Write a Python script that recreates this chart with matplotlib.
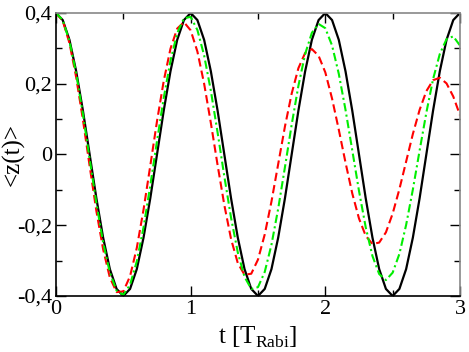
import matplotlib
matplotlib.use('Agg')
import matplotlib.pyplot as plt
from matplotlib.ticker import MultipleLocator

plt.rcParams['font.family'] = 'Liberation Serif'
plt.rcParams['mathtext.fontset'] = 'custom'
plt.rcParams['mathtext.rm'] = 'Liberation Serif'

# time in units of T_Rabi, step 0.05
t = [round(0.05 * i, 2) for i in range(61)]

z_black = [0.400, 0.380, 0.324, 0.235, 0.124, 0.000, -0.124, -0.235, -0.324, -0.380,
           -0.400, -0.380, -0.324, -0.235, -0.124, 0.000, 0.124, 0.235, 0.324, 0.380,
           0.400, 0.380, 0.324, 0.235, 0.124, 0.000, -0.124, -0.235, -0.324, -0.380,
           -0.400, -0.380, -0.324, -0.235, -0.124, 0.000, 0.124, 0.235, 0.324, 0.380,
           0.400, 0.380, 0.324, 0.235, 0.124, 0.000, -0.124, -0.235, -0.324, -0.380,
           -0.400, -0.380, -0.324, -0.235, -0.124, 0.000, 0.124, 0.235, 0.324, 0.380,
           0.400]

z_green = [0.400, 0.380, 0.320, 0.229, 0.114, -0.013, -0.138, -0.249, -0.334, -0.385,
           -0.397, -0.368, -0.302, -0.206, -0.088, 0.038, 0.160, 0.265, 0.343, 0.385,
           0.389, 0.352, 0.280, 0.180, 0.062, -0.062, -0.179, -0.277, -0.346, -0.380,
           -0.375, -0.332, -0.255, -0.153, -0.036, 0.084, 0.194, 0.284, 0.344, 0.369,
           0.357, 0.308, 0.228, 0.126, 0.012, -0.103, -0.206, -0.287, -0.338, -0.355,
           -0.334, -0.281, -0.199, -0.099, 0.011, 0.118, 0.213, 0.284, 0.326, 0.334,
           0.308]

z_red = [0.400, 0.378, 0.315, 0.218, 0.098, -0.033, -0.160, -0.268, -0.348, -0.389,
         -0.387, -0.344, -0.264, -0.156, -0.032, 0.094, 0.208, 0.299, 0.356, 0.374,
         0.351, 0.291, 0.200, 0.089, -0.030, -0.143, -0.239, -0.307, -0.340, -0.337,
         -0.297, -0.226, -0.133, -0.027, 0.079, 0.172, 0.244, 0.287, 0.298, 0.279,
         0.232, 0.158, 0.070, -0.023, -0.110, -0.181, -0.230, -0.253, -0.249, -0.220,
         -0.167, -0.098, -0.020, 0.058, 0.126, 0.179, 0.210, 0.217, 0.201, 0.164,
         0.111]

ytick_vals = [-0.4, -0.2, 0.0, 0.2, 0.4]
ytick_labels = ['-0,4', '-0,2', '0', '0,2', '0,4']
xtick_vals = [0, 1, 2, 3]
xtick_labels = ['0', '1', '2', '3']

fig = plt.figure(figsize=(4.69, 3.52), dpi=100)
ax = fig.add_axes([0.1194, 0.1591, 0.8614, 0.804])

ax.plot(t, z_black, '-', color='black', linewidth=1.6)
ax.plot(t, z_red, color='#ff0000', linewidth=1.5, dashes=(4, 2))
ax.plot(t, z_green, color='#00ee00', linewidth=1.5, dashes=(4, 1.6, 1, 1.6))

ax.set_xlim(0, 3)
ax.set_ylim(-0.4, 0.4)

ax.set_xticks(xtick_vals)
ax.set_xticklabels(xtick_labels)
ax.set_yticks(ytick_vals)
ax.set_yticklabels(ytick_labels)
ax.xaxis.set_minor_locator(MultipleLocator(0.5))
ax.yaxis.set_minor_locator(MultipleLocator(0.1))

ax.tick_params(which='both', direction='in', top=True, right=True,
               labelsize=16, width=1)
ax.tick_params(which='major', length=7, pad=3)
ax.tick_params(which='minor', length=4)

for s in ['top', 'right']:
    ax.spines[s].set_color('#888888')
for s in ['left', 'bottom']:
    ax.spines[s].set_color('black')
for s in ax.spines.values():
    s.set_linewidth(1.2)

ax.set_xlabel(r't [T$_{\mathrm{Rabi}}$]', fontsize=18, labelpad=4)
ax.set_ylabel('<z(t)>', fontsize=18)
ax.yaxis.set_label_coords(-0.078, 0.5)

fig.savefig('out.png', dpi=100)
